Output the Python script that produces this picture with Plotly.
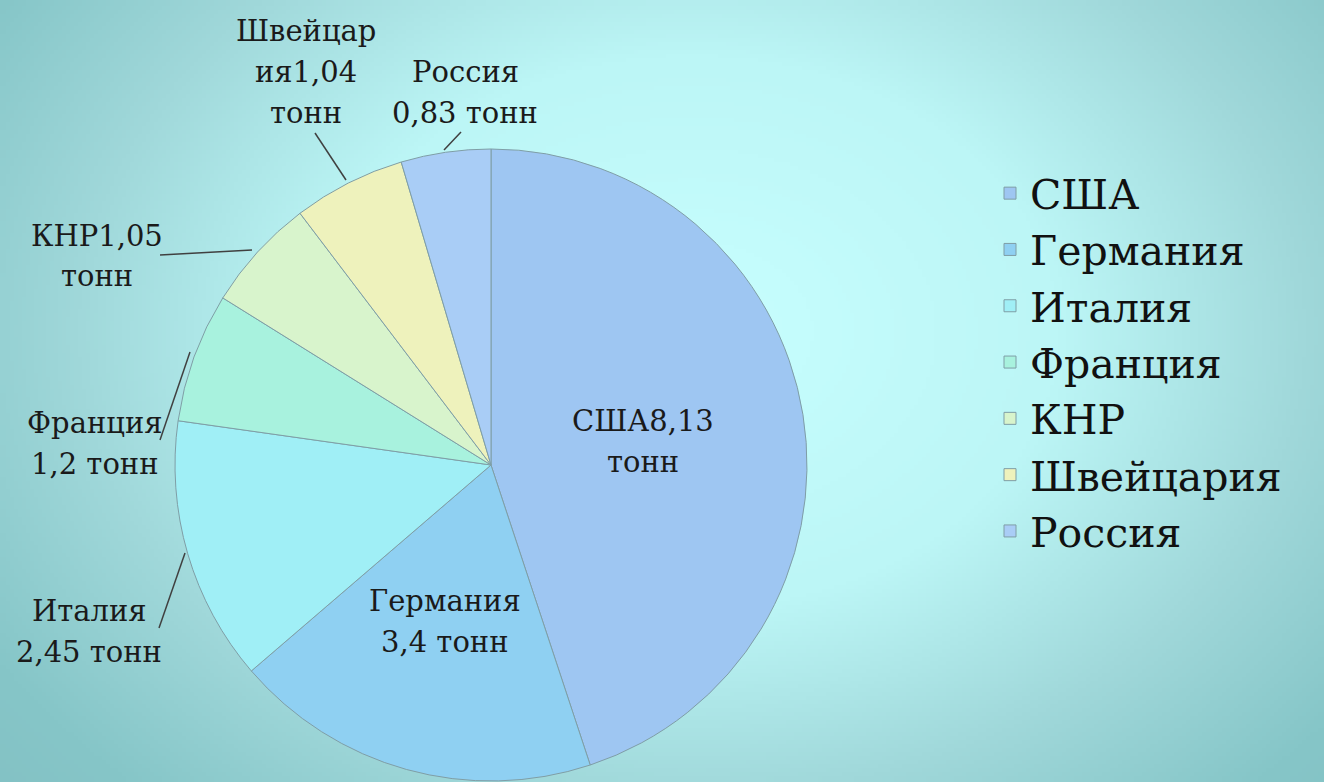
import base64
import struct
import zlib

import numpy as np
import plotly.graph_objects as go

# ---------------- data ----------------
countries = ["США", "Германия", "Италия", "Франция", "КНР", "Швейцария", "Россия"]
values = [8.13, 3.4, 2.45, 1.2, 1.05, 1.04, 0.83]
unit = "тонн"
slice_colors = ["#9ec6f2", "#8fd0f2", "#a0eff6", "#a8f2de", "#d8f4cc", "#eef2bc", "#a9cdf6"]


def fmt(v):
    return str(v).replace(".", ",")


# label texts as wrapped in the original chart
label_texts = [
    f"{countries[0]}{fmt(values[0])}<br>{unit}",
    f"{countries[1]}<br>{fmt(values[1])} {unit}",
    f"{countries[2]}<br>{fmt(values[2])} {unit}",
    f"{countries[3]}<br>{fmt(values[3])} {unit}",
    f"{countries[4]}{fmt(values[4])}<br>{unit}",
    f"{countries[5][:7]}<br>{countries[5][7:]}{fmt(values[5])}<br>{unit}",
    f"{countries[6]}<br>{fmt(values[6])} {unit}",
]

W, H = 1324, 782


# ---------------- background radial gradient (decorative PNG) ----------------
def png_data_uri(arr):
    h, w, _ = arr.shape
    raw = b"".join(b"\x00" + arr[y].tobytes() for y in range(h))

    def chunk(t, d):
        return struct.pack(">I", len(d)) + t + d + struct.pack(">I", zlib.crc32(t + d) & 0xFFFFFFFF)

    png = (b"\x89PNG\r\n\x1a\n"
           + chunk(b"IHDR", struct.pack(">IIBBBBB", w, h, 8, 2, 0, 0, 0))
           + chunk(b"IDAT", zlib.compress(raw, 9))
           + chunk(b"IEND", b""))
    return "data:image/png;base64," + base64.b64encode(png).decode()


gw, gh = 331, 196
yy, xx = np.mgrid[0:gh, 0:gw].astype(float)
px = xx * W / gw
py = yy * H / gh
d = np.sqrt(((px - 690) / 820) ** 2 + ((py - 330) / 620) ** 2)
stops_d = [0.0, 0.45, 0.75, 1.0, 1.3]
stops_c = np.array([[200, 255, 255], [188, 246, 246], [160, 216, 218], [134, 198, 200], [128, 188, 192]], float)
img = np.zeros((gh, gw, 3))
for k in range(3):
    img[..., k] = np.interp(d, stops_d, stops_c[:, k])
bg_uri = png_data_uri(img.clip(0, 255).astype(np.uint8))

# ---------------- figure ----------------
cx, cy, r = 491, 465, 316


def px2paper(x, y):
    return x / W, 1 - y / H


fig = go.Figure()
fig.add_trace(go.Pie(
    labels=countries,
    values=values,
    sort=False,
    direction="clockwise",
    rotation=0,
    textinfo="none",
    hoverinfo="label+value",
    marker=dict(colors=slice_colors, line=dict(color="#7f9ea6", width=1)),
    domain=dict(x=[(cx - r) / W, (cx + r) / W], y=[1 - (cy + r) / H, 1 - (cy - r) / H]),
))

font_family = "DejaVu Serif"
label_pos = [(643, 441), (445, 621), (89, 631), (95, 443), (97, 256), (306, 72), (465, 92)]
line_gap = 41
annotations = []
for txt, (x, y) in zip(label_texts, label_pos):
    lines = txt.split("<br>")
    n = len(lines)
    for i, ln in enumerate(lines):
        ax, ay = px2paper(x, y + (i - (n - 1) / 2) * line_gap)
        annotations.append(dict(x=ax, y=ay, xref="paper", yref="paper", text=ln, showarrow=False,
                                xanchor="center", yanchor="middle", align="center",
                                font=dict(family=font_family, size=29, color="#1a1a1a")))

leaders = [((315, 133), (346, 180)), ((461, 132), (444, 150)), ((160, 255), (252, 250)),
           ((160, 440), (190, 352)), ((159, 628), (185, 553))]
shapes = []
for (x0, y0), (x1, y1) in leaders:
    a0, b0 = px2paper(x0, y0)
    a1, b1 = px2paper(x1, y1)
    shapes.append(dict(type="line", xref="paper", yref="paper", x0=a0, y0=b0, x1=a1, y1=b1,
                       line=dict(color="#404040", width=1.5)))

fig.update_layout(
    width=W, height=H,
    margin=dict(l=0, r=0, t=0, b=0),
    paper_bgcolor="#a8dcdc",
    plot_bgcolor="rgba(0,0,0,0)",
    images=[dict(source=bg_uri, xref="paper", yref="paper", x=0, y=1, sizex=1, sizey=1,
                 xanchor="left", yanchor="top", sizing="stretch", layer="below")],
    showlegend=True,
    legend=dict(x=990 / W, y=1 - 160 / H, xanchor="left", yanchor="top",
                font=dict(family=font_family, size=41, color="#111111"),
                bgcolor="rgba(0,0,0,0)", traceorder="normal", itemclick=False),
    annotations=annotations,
    shapes=shapes,
)

fig.write_html("out.html", config={"displayModeBar": False},
               post_script="document.body.style.margin='0';document.body.style.padding='0';"
                           "document.documentElement.style.margin='0';")
